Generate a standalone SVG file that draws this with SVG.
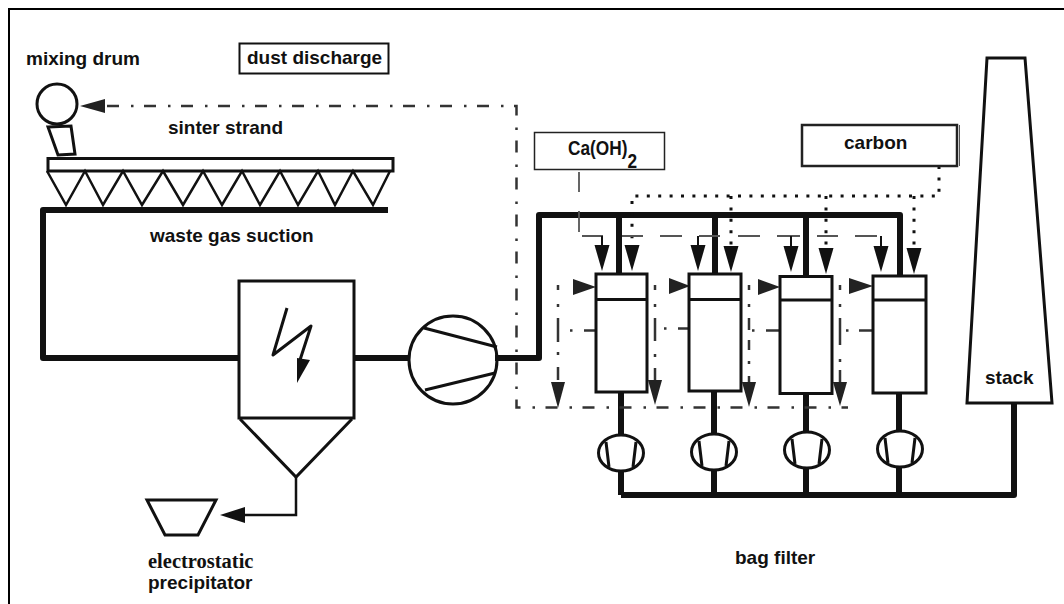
<svg xmlns="http://www.w3.org/2000/svg" width="1064" height="604" viewBox="0 0 1064 604">
<style>
.o{fill:none;stroke:#111;stroke-width:3}
.b{fill:#fff;stroke:#111;stroke-width:3}
.t{fill:none;stroke:#111;stroke-width:6;stroke-linejoin:round}
.m{fill:none;stroke:#111;stroke-width:4}
.dd{fill:none;stroke:#333;stroke-width:2.500;stroke-dasharray:12 12 2.5 10.5}
.dv{fill:none;stroke:#333;stroke-width:2.500}
.dot{fill:none;stroke:#111;stroke-width:3;stroke-dasharray:3 8.4}
.ca{fill:none;stroke:#555;stroke-width:1.800}
.ah{fill:#111}
.ag{fill:#222}
text{font-family:"Liberation Sans",Arial,sans-serif;font-weight:700;fill:#111;font-size:19px}
.s{font-family:"Liberation Serif","Times New Roman",serif;font-size:20.500px}
</style>
<path id="frame" d="M9 604V9H1064" fill="none" stroke="#000" stroke-width="2"/>
<g id="main-fan">
<circle class="b" cx="453" cy="360" r="44"/>
<path d="M424 328L497 347M425 390L495 373" fill="none" stroke="#111" stroke-width="3"/>
</g>
<g id="connectors">
<path class="t" d="M388 210H43V358H238"/>
<path class="t" d="M354 358H408"/>
<path class="t" d="M495 358H539V215H900V276"/>
<path class="t" d="M619 215V274M715 215V274M806 215V276"/>
<path class="t" d="M621 392V436M621 470V495M714 392V434M714 471V495M806 394V432M806 468V495M899 393V431M899 467V495"/>
<path class="t" d="M621 495H1014V403"/>
<path class="m" d="M296 477V515H244" style="stroke-width:2.5"/>
<polygon class="ah" points="220,515 245,507 245,523"/>
<path class="dd" d="M107 106H516.500V407.500H848"/>
<polygon class="ag" points="80,106 105,99 105,113"/>
<path class="dot" d="M939 166V196H632V246M731 196V246M826 196V246M914 196V246"/>
<path class="ca" d="M579 172V192M579 211V232"/>
<path class="ca" d="M582 236H603M622 236H643M660 236H682M699 236H720M738 236H760M777 236H800M817 236H838M855 236H877"/>
<path class="m" d="M602 236V248M698 236V248M791 236V248M881 236V248" style="stroke-width:2"/>
<polygon class="ah" points="594.500,245 609.500,245 602,271"/>
<polygon class="ah" points="624.500,245 639.500,245 632,271"/>
<polygon class="ah" points="690.500,245 705.500,245 698,271"/>
<polygon class="ah" points="723.500,246 738.500,246 731,272"/>
<polygon class="ah" points="783.500,246 798.500,246 791,272"/>
<polygon class="ah" points="818.500,248 833.500,248 826,274"/>
<polygon class="ah" points="873.500,246 888.500,246 881,272"/>
<polygon class="ah" points="906.500,248 921.500,248 914,274"/>
<path class="dv" d="M558 285V290M558 304V307M558 318V342M558 352V355M558 367V380"/>
<path class="dv" d="M655 285V290M655 304V307M655 318V341M655 354V357M655 368V380"/>
<path class="dv" d="M749 285V290M749 304V307M749 318V330M749 340V350M749 361V364M749 376V382"/>
<path class="dv" d="M840 285V290M840 304V307M840 318V345M840 359V362M840 370V382"/>
<polygon class="ag" points="551,382 565,382 558,408"/>
<polygon class="ag" points="648,380 662,380 655,405"/>
<polygon class="ag" points="742,382 756,382 749,407"/>
<polygon class="ag" points="833,382 847,382 840,406"/>
<polygon class="ag" points="573,279 573,295 596,287"/>
<polygon class="ag" points="669,278 669,294 690,286"/>
<polygon class="ag" points="758,279 758,295 780,287"/>
<polygon class="ag" points="849,278 849,294 873,286"/>
<path class="dv" d="M570 330.500H572.500M584 330.500H596M664 328.500H666.500M678 328.500H689M752 330.500H754.500M766 330.500H780M846 330.500H848.500M859 330.500H873"/>
</g>
<g id="mixing-drum">
<circle class="o" cx="57" cy="104" r="20"/>
<polygon class="o" points="48,127 71,126 75,154 58,155"/>
<text x="26" y="65">mixing drum</text>
</g>
<g id="dust-discharge">
<rect x="239.500" y="43.500" width="149" height="30" fill="#fff" stroke="#111" stroke-width="2"/>
<text x="247" y="64">dust discharge</text>
</g>
<g id="sinter-strand">
<rect class="o" x="48" y="158.500" width="345" height="12.500"/>
<path d="M47 171L66 205L85 171L103 205L123 171L142 205L163 171L183 205L203 171L222 205L242 171L260 205L280 171L298 205L318 171L335 205L353 171L373 205L390 171" fill="none" stroke="#111" stroke-width="2.500"/>
<text x="168" y="134">sinter strand</text>
<text x="150" y="242">waste gas suction</text>
</g>
<g id="precipitator">
<rect class="o" x="239" y="281" width="115" height="137"/>
<path d="M240 419L296 477L352 419" fill="none" stroke="#111" stroke-width="3"/>
<path d="M287 308L273 355L311 326L300 360" fill="none" stroke="#111" stroke-width="3" stroke-linejoin="round"/>
<polygon class="ah" points="297,383 297,358 310,360"/>
<polygon class="o" points="147,500 216,500 198,535 165,535"/>
<text class="s" x="148" y="568">electrostatic</text>
<text x="148" y="589">precipitator</text>
</g>
<g id="filter-1"><rect class="b" x="596" y="274" width="51" height="118"/><path class="o" d="M596 299.500H647"/></g>
<g id="filter-2"><rect class="b" x="689" y="274" width="52" height="117"/><path class="o" d="M689 299.500H741"/></g>
<g id="filter-3"><rect class="b" x="780" y="276.500" width="52" height="117"/><path class="o" d="M780 300H832"/></g>
<g id="filter-4"><rect class="b" x="873" y="276" width="53" height="117"/><path class="o" d="M873 300H926"/></g>
<g id="fan-1"><ellipse class="b" cx="621" cy="453" rx="22.500" ry="18"/><path class="o" d="M606 442L609 467M636 442L633 467"/></g>
<g id="fan-2"><ellipse class="b" cx="714" cy="452" rx="22.500" ry="18"/><path class="o" d="M699 441L702 466M729 441L726 466"/></g>
<g id="fan-3"><ellipse class="b" cx="807" cy="450" rx="22.500" ry="18"/><path class="o" d="M792 439L795 464M822 439L819 464"/></g>
<g id="fan-4"><ellipse class="b" cx="900" cy="449" rx="22.500" ry="18"/><path class="o" d="M885 438L888 463M915 438L912 463"/></g>
<g id="caoh2">
<rect x="534.500" y="132.500" width="130" height="37" fill="#fff" stroke="#222" stroke-width="1.500"/>
<text x="568" y="155" style="font-size:20px" textLength="69" lengthAdjust="spacingAndGlyphs">Ca(OH)<tspan dy="13">2</tspan></text>
</g>
<g id="carbon">
<rect x="802" y="125" width="155" height="41" fill="#fff" stroke="#222" stroke-width="2.500"/>
<path d="M959.500 125V166" stroke="#555" stroke-width="1"/>
<text x="844" y="149">carbon</text>
</g>
<g id="stack">
<polygon class="b" points="987,58 1025,58 1052,403 967,403"/>
<text x="985" y="384">stack</text>
</g>
<text id="bag-filter" x="735" y="564">bag filter</text>
</svg>
